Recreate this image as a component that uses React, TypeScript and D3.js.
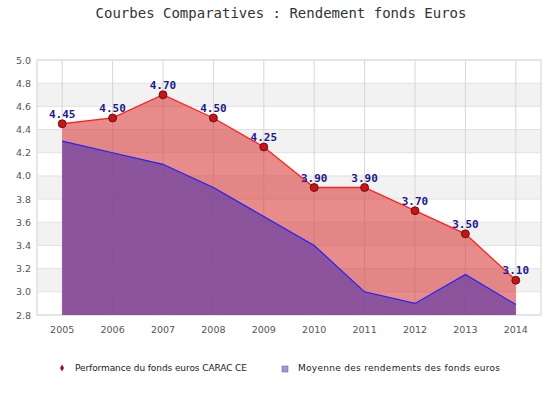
import React from "react";
import * as d3 from "d3";

const years = ["2005","2006","2007","2008","2009","2010","2011","2012","2013","2014"];
const carac = [4.45, 4.5, 4.7, 4.5, 4.25, 3.9, 3.9, 3.7, 3.5, 3.1];
const moyenne = [4.3, 4.2, 4.1, 3.9, 3.65, 3.4, 3.0, 2.9, 3.15, 2.89];
const yTicks = [2.8, 3.0, 3.2, 3.4, 3.6, 3.8, 4.0, 4.2, 4.4, 4.6, 4.8, 5.0];
const title = "Courbes Comparatives : Rendement fonds Euros";
const legendLabels = ["Performance du fonds euros CARAC CE", "Moyenne des rendements des fonds euros"];

export default function App() {
  const W = 560, H = 420;
  const left = 37, right = 541, top = 60, bottom = 315;
  const x = d3.scaleBand<string>().domain(years).range([left, right]);
  const cx = (d: string) => (x(d) as number) + x.bandwidth() / 2;
  const y = d3.scaleLinear().domain([2.8, 5.0]).range([bottom, top]);

  const areaGen = d3.area<number>().x((_, i) => cx(years[i])).y0(bottom).y1((d) => y(d));
  const lineGen = d3.line<number>().x((_, i) => cx(years[i])).y((d) => y(d));

  const bands = yTicks.slice(0, -1).map((t, i) => ({ t0: t, t1: yTicks[i + 1], gray: i % 2 === 1 }));

  return (
    <svg width={W} height={H} style={{ position: "absolute", left: 0, top: 0, background: "#fff" }}>
      <text x={W / 2 + 1} y={18} textAnchor="middle" fontFamily="DejaVu Sans Mono" fontSize={14} fill="#333">{title}</text>
      {bands.map((b, i) => (
        <rect key={i} x={left} y={y(b.t1)} width={right - left} height={y(b.t0) - y(b.t1)} fill={b.gray ? "#f2f2f2" : "#fff"} />
      ))}
      {yTicks.map((t) => (
        <line key={"h" + t} x1={left} x2={right} y1={y(t)} y2={y(t)} stroke="#e2e2e2" strokeWidth={1} />
      ))}
      {years.map((yr) => (
        <line key={"v" + yr} x1={cx(yr)} x2={cx(yr)} y1={top} y2={bottom} stroke="#d6d6d6" strokeWidth={1} />
      ))}
      <rect x={left} y={top} width={right - left} height={bottom - top} fill="none" stroke="#e0e0e0" strokeWidth={1.5} />
      <path d={areaGen(carac) || ""} fill="rgb(216,62,62)" fillOpacity={0.6} />
      <path d={areaGen(moyenne) || ""} fill="rgb(122,74,160)" fillOpacity={0.85} />
      <path d={lineGen(moyenne) || ""} fill="none" stroke="#2020ff" strokeWidth={1.2} />
      <path d={lineGen(carac) || ""} fill="none" stroke="#ff2020" strokeWidth={1.3} />
      {carac.map((v, i) => (
        <g key={"m" + i}>
          <circle cx={cx(years[i])} cy={y(v)} r={4} fill="#c81414" stroke="#4a0a0a" strokeWidth={0.8} />
          <text x={cx(years[i])} y={y(v) - 6} textAnchor="middle" fontFamily="DejaVu Sans Mono" fontWeight="bold" fontSize={11} fill="#1a1a8c">{v.toFixed(2)}</text>
        </g>
      ))}
      {yTicks.map((t) => (
        <text key={"yl" + t} x={31} y={y(t) + 3.5} textAnchor="end" fontFamily="DejaVu Sans" fontSize={9.5} fill="#555">{t.toFixed(1)}</text>
      ))}
      {years.map((yr) => (
        <text key={"xl" + yr} x={cx(yr)} y={333} textAnchor="middle" fontFamily="DejaVu Sans" fontSize={9.5} fill="#555">{yr}</text>
      ))}
      <path d={d3.symbol(d3.symbolDiamond, 14)() || ""} transform="translate(62,368)" fill="#a01010" />
      <text x={75} y={371} fontFamily="DejaVu Sans" fontSize={9} fill="#222" textLength={172} lengthAdjust="spacing">{legendLabels[0]}</text>
      <rect x={282} y={366} width={6} height={6} fill="#9f97dd" stroke="#666" strokeWidth={0.5} />
      <text x={298} y={371} fontFamily="DejaVu Sans" fontSize={9} fill="#222" textLength={202} lengthAdjust="spacing">{legendLabels[1]}</text>
    </svg>
  );
}
